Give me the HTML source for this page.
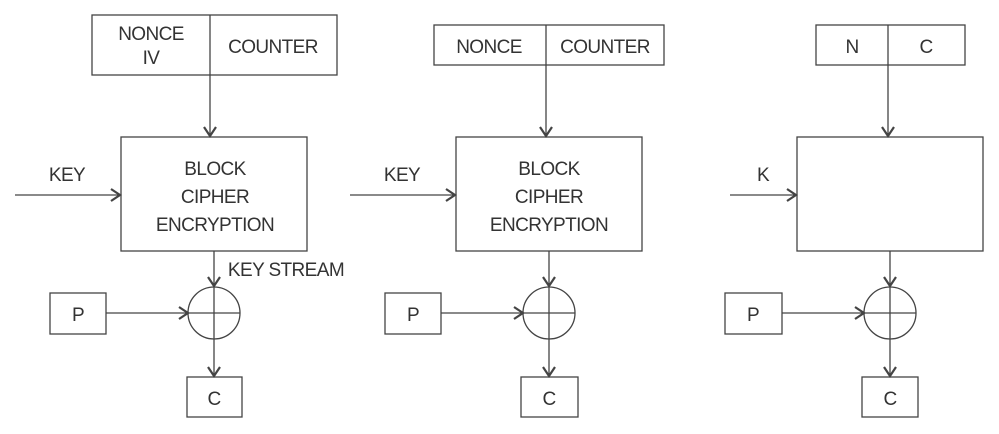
<!DOCTYPE html>
<html><head><meta charset="utf-8"><style>
html,body{margin:0;padding:0;background:#fff;}
svg{display:block}
text{font-family:"Liberation Sans",sans-serif;font-size:19px;fill:#333;text-anchor:middle;letter-spacing:-0.6px}
.ah{stroke-width:2.2}
</style></head><body>
<svg width="999" height="434" viewBox="0 0 999 434" xmlns="http://www.w3.org/2000/svg">
<g stroke="#444" stroke-width="1.3" fill="none">
<!-- diagram 1 -->
<rect x="92" y="15" width="245" height="60"/>
<line x1="210" y1="15" x2="210" y2="137"/>
<polyline class="ah" points="204,127 210,136 216,127"/>
<rect x="121" y="137" width="186" height="114"/>
<line x1="15" y1="195" x2="121" y2="195"/>
<polyline class="ah" points="111,189 120,195 111,201"/>
<line x1="214" y1="251" x2="214" y2="377"/>
<polyline class="ah" points="208,277 214,286 220,277"/>
<circle cx="214" cy="313" r="26"/>
<line x1="188" y1="313" x2="240" y2="313"/>
<rect x="50" y="293" width="56" height="41"/>
<line x1="106" y1="313" x2="188" y2="313"/>
<polyline class="ah" points="179,307 188,313 179,319"/>
<polyline class="ah" points="208,367 214,376 220,367"/>
<rect x="187" y="377" width="55" height="40"/>
<!-- diagram 2 -->
<rect x="434" y="25" width="230" height="40"/>
<line x1="546" y1="25" x2="546" y2="137"/>
<polyline class="ah" points="540,127 546,136 552,127"/>
<rect x="456" y="137" width="186" height="114"/>
<line x1="350" y1="195" x2="456" y2="195"/>
<polyline class="ah" points="446,189 455,195 446,201"/>
<line x1="549" y1="251" x2="549" y2="377"/>
<polyline class="ah" points="543,277 549,286 555,277"/>
<circle cx="549" cy="313" r="26"/>
<line x1="523" y1="313" x2="575" y2="313"/>
<rect x="385" y="293" width="56" height="41"/>
<line x1="441" y1="313" x2="523" y2="313"/>
<polyline class="ah" points="514,307 523,313 514,319"/>
<polyline class="ah" points="543,367 549,376 555,367"/>
<rect x="521" y="377" width="57" height="40"/>
<!-- diagram 3 -->
<rect x="816" y="25" width="149" height="40"/>
<line x1="888" y1="25" x2="888" y2="137"/>
<polyline class="ah" points="882,127 888,136 894,127"/>
<rect x="797" y="137" width="186" height="114"/>
<line x1="730" y1="195" x2="797" y2="195"/>
<polyline class="ah" points="787,189 796,195 787,201"/>
<line x1="890" y1="251" x2="890" y2="377"/>
<polyline class="ah" points="884,277 890,286 896,277"/>
<circle cx="890" cy="313" r="26"/>
<line x1="864" y1="313" x2="916" y2="313"/>
<rect x="725" y="293" width="57" height="41"/>
<line x1="782" y1="313" x2="864" y2="313"/>
<polyline class="ah" points="855,307 864,313 855,319"/>
<polyline class="ah" points="884,367 890,376 896,367"/>
<rect x="862" y="377" width="56" height="40"/>
</g>
<text x="151" y="40">NONCE</text>
<text x="151" y="64">IV</text>
<text x="273" y="53">COUNTER</text>
<text x="215" y="175">BLOCK</text>
<text x="215" y="203">CIPHER</text>
<text x="215" y="231">ENCRYPTION</text>
<text x="67" y="181">KEY</text>
<text x="286" y="276">KEY STREAM</text>
<text x="78" y="321">P</text>
<text x="214" y="405">C</text>
<text x="489" y="53">NONCE</text>
<text x="605" y="53">COUNTER</text>
<text x="549" y="175">BLOCK</text>
<text x="549" y="203">CIPHER</text>
<text x="549" y="231">ENCRYPTION</text>
<text x="402" y="181">KEY</text>
<text x="413" y="321">P</text>
<text x="549" y="405">C</text>
<text x="852" y="53">N</text>
<text x="926" y="53">C</text>
<text x="763" y="181">K</text>
<text x="753" y="321">P</text>
<text x="890" y="405">C</text>
</svg>
</body></html>
